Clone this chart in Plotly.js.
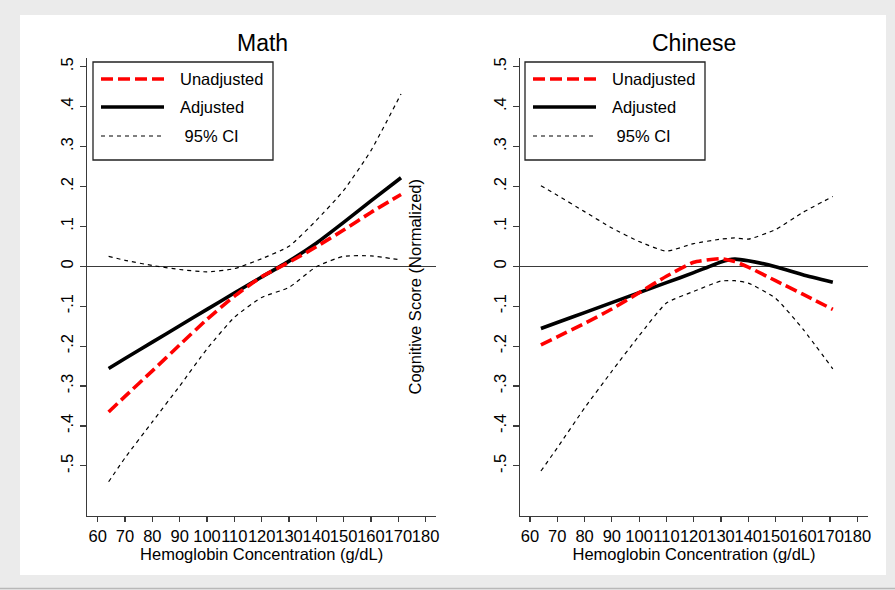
<!DOCTYPE html>
<html>
<head>
<meta charset="utf-8">
<script src="https://cdn.plot.ly/plotly-3.0.1.min.js"></script>
<style>html,body{margin:0;padding:0;background:#ebebeb;}#chart{width:895px;height:590px;}</style>
</head>
<body>
<div id="chart"></div>
<script>
// ---- Data ----
const panelTitles = ["Math", "Chinese"];
const seriesNames = ["Unadjusted", "Adjusted", " 95% CI"];
const xTickVals = [60, 70, 80, 90, 100, 110, 120, 130, 140, 150, 160, 170, 180];
const xTickText = ["60", "70", "80", "90", "100", "110", "120", "130", "140", "150", "160", "170", "180"];
const yTickVals = [0.5, 0.4, 0.3, 0.2, 0.1, 0, -0.1, -0.2, -0.3, -0.4, -0.5];
const yTickText = [".5", ".4", ".3", ".2", ".1", "0", "-.1", "-.2", "-.3", "-.4", "-.5"];

// Math panel
const mathX = [64, 70, 80, 90, 100, 110, 120, 130, 140, 150, 160, 171];
const mathAdjusted   = [-0.256, -0.231, -0.190, -0.149, -0.108, -0.067, -0.027, 0.013, 0.058, 0.110, 0.164, 0.222];
const mathUnadjusted = [-0.365, -0.326, -0.262, -0.197, -0.133, -0.075, -0.026, 0.010, 0.049, 0.091, 0.135, 0.180];
const mathUpperCI    = [0.025, 0.015, 0.002, -0.008, -0.014, -0.006, 0.019, 0.050, 0.115, 0.190, 0.290, 0.432];
const mathLowerCI    = [-0.540, -0.480, -0.390, -0.300, -0.207, -0.128, -0.078, -0.053, -0.001, 0.025, 0.026, 0.016];

// Chinese panel
const chnX = [64, 70, 80, 90, 100, 110, 120, 130, 135, 140, 150, 160, 171];
const chnAdjusted   = [-0.156, -0.141, -0.116, -0.091, -0.066, -0.041, -0.016, 0.011, 0.018, 0.014, -0.001, -0.021, -0.040];
const chnUnadjusted = [-0.197, -0.177, -0.143, -0.107, -0.066, -0.025, 0.010, 0.019, 0.012, -0.002, -0.036, -0.070, -0.108];
const chnUpperCI    = [0.202, 0.178, 0.137, 0.096, 0.062, 0.038, 0.057, 0.068, 0.071, 0.068, 0.092, 0.135, 0.175];
const chnLowerCI    = [-0.513, -0.455, -0.355, -0.263, -0.174, -0.092, -0.063, -0.037, -0.036, -0.042, -0.080, -0.157, -0.257];

// ---- Helpers ----
const W = 895, H = 590;
const px = x => x / W;
const py = y => 1 - y / H;
const FONT = "Liberation Sans, Arial, sans-serif";
const AXC = "#3a3a3a";

const redLine = {color: "#ff0000", width: 3.6, dash: "12px,5px"};
const blackLine = {color: "#000000", width: 3.6};
const ciLine = {color: "#000000", width: 1.2, dash: "4px,4px"};

function panelTraces(x, adj, unadj, up, lo, xa, ya) {
  return [
    {x: x, y: up, xaxis: xa, yaxis: ya, mode: "lines", line: ciLine, name: seriesNames[2], showlegend: false, hoverinfo: "skip"},
    {x: x, y: lo, xaxis: xa, yaxis: ya, mode: "lines", line: ciLine, name: seriesNames[2], showlegend: false, hoverinfo: "skip"},
    {x: x, y: adj, xaxis: xa, yaxis: ya, mode: "lines", line: blackLine, name: seriesNames[1], showlegend: false},
    {x: x, y: unadj, xaxis: xa, yaxis: ya, mode: "lines", line: redLine, name: seriesNames[0], showlegend: false}
  ];
}

const data = [
  ...panelTraces(mathX, mathAdjusted, mathUnadjusted, mathUpperCI, mathLowerCI, "x", "y"),
  ...panelTraces(chnX, chnAdjusted, chnUnadjusted, chnUpperCI, chnLowerCI, "x2", "y2")
];
data.forEach(t => { t.line = Object.assign({shape: "spline", smoothing: 0.5}, t.line); });

function xAxis(domain, range, anchor) {
  return {
    domain: domain, range: range, anchor: anchor,
    tickvals: xTickVals, ticktext: xTickText, tickangle: 0,
    tickfont: {family: FONT, size: 16.5, color: "#000"},
    ticks: "outside", ticklen: 5, tickwidth: 1.2, tickcolor: AXC,
    showline: true, linecolor: AXC, linewidth: 1.3, showgrid: false, zeroline: false,
    title: {text: "Hemoglobin Concentration (g/dL)", font: {family: FONT, size: 16.5, color: "#000"}, standoff: 0},
    automargin: false, fixedrange: true
  };
}
function yAxis(domain, anchor) {
  return {
    domain: domain, range: [-0.625, 0.522], anchor: anchor,
    tickvals: yTickVals, ticktext: yTickText, tickangle: -90,
    tickfont: {family: FONT, size: 16.5, color: "#000"},
    ticks: "outside", ticklen: 6, tickwidth: 1.2, tickcolor: AXC,
    showline: true, linecolor: AXC, linewidth: 1.3, showgrid: false,
    zeroline: true, zerolinecolor: AXC, zerolinewidth: 1.2,
    automargin: false, fixedrange: true
  };
}

const yDom = [py(515.7), py(58)];

// legend drawn as shapes + annotations
const shapes = [
  {type: "rect", xref: "paper", yref: "paper", x0: px(20), x1: px(886), y0: py(575), y1: py(15), fillcolor: "#ffffff", line: {width: 0}, layer: "below"},
  {type: "line", xref: "paper", yref: "paper", x0: 0, x1: 1, y0: py(588.5), y1: py(588.5), line: {color: "#b8b8b8", width: 1.5}, layer: "below"}
];
const annotations = [];
[0, 432].forEach((off, i) => {
  shapes.push({type: "rect", xref: "paper", yref: "paper", x0: px(93 + off), x1: px(273 + off), y0: py(160), y1: py(62), line: {color: "#222", width: 1.3}, fillcolor: "rgba(0,0,0,0)"});
  shapes.push({type: "line", xref: "paper", yref: "paper", x0: px(101 + off), x1: px(164 + off), y0: py(79), y1: py(79), line: redLine});
  shapes.push({type: "line", xref: "paper", yref: "paper", x0: px(101 + off), x1: px(164 + off), y0: py(107), y1: py(107), line: blackLine});
  shapes.push({type: "line", xref: "paper", yref: "paper", x0: px(101 + off), x1: px(164 + off), y0: py(136), y1: py(136), line: ciLine});
  [[79, seriesNames[0]], [107, seriesNames[1]], [136, seriesNames[2]]].forEach(([yy, txt]) => {
    annotations.push({xref: "paper", yref: "paper", x: px(178 + off), y: py(yy), xanchor: "left", yanchor: "middle", text: txt, showarrow: false, font: {family: FONT, size: 16.5, color: "#000"}});
  });
});
annotations.push({xref: "paper", yref: "paper", x: px(262), y: py(43), text: panelTitles[0], showarrow: false, xanchor: "center", yanchor: "middle", font: {family: FONT, size: 23, color: "#000"}});
annotations.push({xref: "paper", yref: "paper", x: px(694), y: py(43), text: panelTitles[1], showarrow: false, xanchor: "center", yanchor: "middle", font: {family: FONT, size: 23, color: "#000"}});
annotations.push({xref: "paper", yref: "paper", x: px(415), y: py(286.5), text: "Cognitive Score (Normalized)", textangle: -90, showarrow: false, xanchor: "center", yanchor: "middle", font: {family: FONT, size: 16.5, color: "#000"}});

const layout = {
  width: W, height: H,
  margin: {l: 0, r: 0, t: 0, b: 0},
  paper_bgcolor: "#ebebeb", plot_bgcolor: "rgba(0,0,0,0)",
  showlegend: false,
  xaxis: xAxis([px(87.3), px(436)], [56.2, 183.8], "y"),
  yaxis: yAxis(yDom, "x"),
  xaxis2: xAxis([px(520), px(868)], [56.33, 183.9], "y2"),
  yaxis2: yAxis(yDom, "x2"),
  shapes: shapes,
  annotations: annotations,
  font: {family: FONT}
};

Plotly.newPlot("chart", data, layout, {staticPlot: true, displayModeBar: false});
</script>
</body>
</html>
